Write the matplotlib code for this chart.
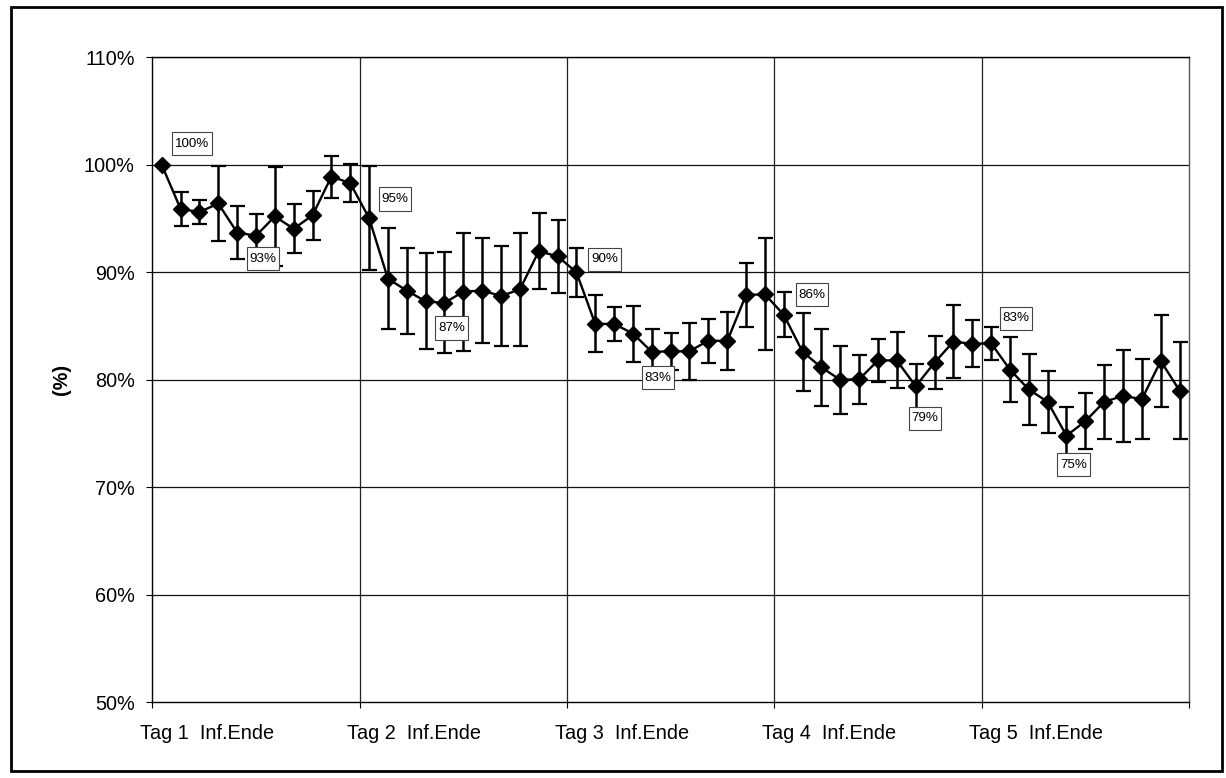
import matplotlib
matplotlib.use("Agg")
import matplotlib.pyplot as plt
from matplotlib.patches import Rectangle
from matplotlib.path import Path
import numpy as np

# Relative values (%) per measurement, 11 measurements per treatment day
values = [
    100.0, 95.9, 95.6, 96.4, 93.7, 93.4, 95.2, 94.05, 95.3, 98.9, 98.3,
    95.05, 89.4, 88.3, 87.3, 87.15, 88.2, 88.3, 87.8, 88.4, 91.95, 91.5,
    90.0, 85.2, 85.2, 84.3, 82.6, 82.65, 82.65, 83.65, 83.6, 87.9, 87.95,
    86.05, 82.6, 81.15, 80.0, 80.05, 81.8, 81.8, 79.4, 81.6, 83.55, 83.35,
    83.4, 80.95, 79.1, 77.95, 74.8, 76.15, 77.95, 78.5, 78.2, 81.75, 79.0,
]
# Standard deviation for each measurement (%)
errors = [
    0.0, 1.6, 1.1, 3.5, 2.5, 2.0, 4.6, 2.3, 2.25, 1.95, 1.8,
    4.8, 4.7, 4.0, 4.45, 4.7, 5.5, 4.9, 4.65, 5.3, 3.55, 3.4,
    2.3, 2.65, 1.6, 2.6, 2.1, 1.7, 2.65, 2.05, 2.7, 2.95, 5.2,
    2.1, 3.6, 3.6, 3.15, 2.3, 2.0, 2.6, 2.1, 2.45, 3.4, 2.2,
    1.55, 3.05, 3.3, 2.9, 2.7, 2.6, 3.45, 4.25, 3.7, 4.3, 4.55,
]
day_labels = ["Tag 1  Inf.Ende", "Tag 2  Inf.Ende", "Tag 3  Inf.Ende",
              "Tag 4  Inf.Ende", "Tag 5  Inf.Ende"]
points_per_day = 11
y_ticks = [50, 60, 70, 80, 90, 100, 110]

# Annotated measurements and their label offsets (pixels)
label_index = [0, 5, 11, 15, 22, 26, 33, 40, 44, 48]
label_offset = [(30, 21), (7, -23), (26, 19), (7, -25), (28, 13),
                (6, -26), (28, 20), (9, -32), (25, 25), (7, -29)]

FONT = "Liberation Sans"
plt.rcParams["font.family"] = [FONT, "DejaVu Sans"]
TICK_FS = 14.3


def label_box(x0, y0, width, height, mutation_size):
    """Rectangle with more vertical than horizontal padding."""
    px = 0.2 * mutation_size
    py = 0.42 * mutation_size
    x0, x1 = x0 - px, x0 + width + px
    y0, y1 = y0 - py, y0 + height + py
    return Path([(x0, y0), (x1, y0), (x1, y1), (x0, y1), (x0, y0)],
                closed=True)


fig = plt.figure(figsize=(12.26, 7.78), dpi=100)
ax = fig.add_axes([152.3 / 1226, 1 - 702.3 / 778,
                   (1189 - 152.3) / 1226, (702.3 - 57.3) / 778])

x = np.arange(len(values))
ax.errorbar(x, values, yerr=errors, fmt="-", color="black", lw=1.7,
            marker="D", ms=8.5, mec="black", mfc="black",
            ecolor="black", elinewidth=1.8, capsize=5.4, capthick=1.6,
            zorder=3)

n = len(values)
ax.set_xlim(-0.5, n - 0.5)
ax.set_ylim(50, 110)

# Day boundaries: ticks and vertical grid
bounds = np.arange(-0.5, n, points_per_day)
ax.set_xticks(bounds)
ax.set_xticklabels([""] * len(bounds))
ax.tick_params(axis="x", which="major", direction="out", length=4.3,
               width=0.8, color="black")
for b in bounds[1:-1]:
    ax.axvline(b, color="#222222", lw=0.9, zorder=1)

# Day labels
label_pos = np.arange(len(day_labels)) * points_per_day + 2.4
ax.set_xticks(label_pos, minor=True)
ax.set_xticklabels(day_labels, minor=True, fontsize=TICK_FS)
ax.tick_params(axis="x", which="minor", length=0, pad=15.8)

ax.set_yticks(y_ticks)
ax.set_yticklabels([f"{t}%" for t in y_ticks], fontsize=TICK_FS)
ax.tick_params(axis="y", direction="out", length=4.3, width=0.8, pad=8.4,
               color="black")
for t in y_ticks[1:]:
    ax.axhline(t, color="#111111", lw=0.9, zorder=1)

for s in ax.spines.values():
    s.set_color("black")
    s.set_linewidth(1.0)
ax.spines["right"].set_color("#555555")

for i, (dx, dy) in zip(label_index, label_offset):
    ax.annotate(f"{round(values[i])}%", xy=(x[i], values[i]),
                xytext=(dx, dy), textcoords="offset pixels",
                ha="center", va="center", fontsize=9.6, zorder=5,
                bbox=dict(boxstyle=label_box, fc="white",
                          ec="#444444", lw=0.8))

fig.text(61.7 / 1226, 1 - 379 / 778, "(%)", rotation=90, ha="center",
         va="center", fontsize=TICK_FS, fontweight="bold")

# Outer frame
fig.patches.append(Rectangle((10.5 / 1226, 1 - 771 / 778),
                             (1221.5 - 10.5) / 1226, (771 - 7) / 778,
                             transform=fig.transFigure, fill=False,
                             ec="black", lw=2.0))

fig.savefig("out.png", dpi=100)
